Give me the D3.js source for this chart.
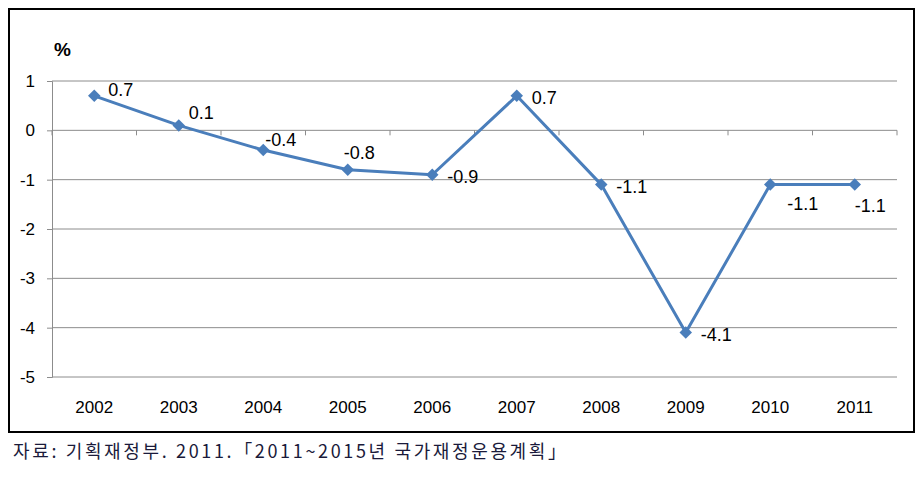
<!DOCTYPE html>
<html>
<head>
<meta charset="utf-8">
<script src="https://cdn.jsdelivr.net/npm/d3@7"></script>
<style>
	body { margin: 0; background: #fff; }
	svg text { font-family: "Liberation Sans", Arial, sans-serif; }
</style>
</head>
<body>
<div id="chart"></div>
<script>
var years = ['2002','2003','2004','2005','2006','2007','2008','2009','2010','2011'];
var values = [0.7, 0.1, -0.4, -0.8, -0.9, 0.7, -1.1, -4.1, -1.1, -1.1];
var yTicks = [1, 0, -1, -2, -3, -4, -5];
// where each value label sits relative to its point
var labelPlace = ['upRight','above','aboveNear','aboveLeft','right','right','right','right','belowRight','below'];
var unitLabel = '%';
var source = '자료: 기획재정부. 2011.「2011~2015년 국가재정운용계획」';

var width = 922, height = 479;
var plotLeft = 52, plotRight = 897, plotTop = 81, plotBottom = 377;

var svg = d3.select('#chart').append('svg')
	.attr('width', width).attr('height', height);

// outer frame
svg.append('rect')
	.attr('x', 9).attr('y', 9).attr('width', 905).attr('height', 423)
	.attr('fill', 'none').attr('stroke', '#000').attr('stroke-width', 2);

var x = d3.scaleBand().domain(years).range([plotLeft, plotRight]);
var y = d3.scaleLinear().domain([-5, 1]).range([plotBottom, plotTop]);

// gridlines
svg.append('g').selectAll('line').data(yTicks).enter().append('line')
	.attr('x1', plotLeft).attr('x2', plotRight)
	.attr('y1', function(d) { return y(d); })
	.attr('y2', function(d) { return y(d); })
	.attr('stroke', '#8c8c8c').attr('stroke-width', 1);

// y axis
var yAxis = svg.append('g')
	.attr('transform', 'translate(' + plotLeft + ',0)')
	.call(d3.axisLeft(y).tickValues(yTicks).tickSize(5).tickPadding(12).tickFormat(String));
yAxis.select('.domain').attr('stroke', '#8c8c8c');
yAxis.selectAll('.tick line').attr('stroke', '#8c8c8c');
yAxis.selectAll('text').attr('font-size', 17).attr('fill', '#000')
	.style('font-family', '"Liberation Sans", Arial, sans-serif');

// category boundary ticks along the zero line
var bounds = d3.range(years.length + 1);
svg.append('g').selectAll('line').data(bounds).enter().append('line')
	.attr('x1', function(i) { return plotLeft + i * x.step(); })
	.attr('x2', function(i) { return plotLeft + i * x.step(); })
	.attr('y1', y(0)).attr('y2', y(0) + 5)
	.attr('stroke', '#8c8c8c');

// category labels under plot
svg.append('g').selectAll('text').data(years).enter().append('text')
	.attr('x', function(d) { return x(d) + x.bandwidth() / 2; })
	.attr('y', 413)
	.attr('text-anchor', 'middle')
	.attr('font-size', 17)
	.text(function(d) { return d; });

// unit label
svg.append('text')
	.attr('x', 54).attr('y', 56)
	.attr('font-size', 19).attr('font-weight', 'bold')
	.text(unitLabel);

var pts = years.map(function(d, i) { return { year: d, value: values[i], place: labelPlace[i] }; });

var line = d3.line()
	.x(function(d) { return x(d.year) + x.bandwidth() / 2; })
	.y(function(d) { return y(d.value); });

svg.append('path').datum(pts)
	.attr('d', line)
	.attr('fill', 'none')
	.attr('stroke', '#4a7ebb')
	.attr('stroke-width', 3)
	.attr('stroke-linejoin', 'round');

svg.append('g').selectAll('path').data(pts).enter().append('path')
	.attr('d', d3.symbol().type(d3.symbolDiamond2).size(100))
	.attr('transform', function(d) { return 'translate(' + (x(d.year) + x.bandwidth() / 2) + ',' + y(d.value) + ')'; })
	.attr('fill', '#4a7ebb');

var offsets = {
	upRight: [14, -6],
	above: [10, -13],
	aboveNear: [2, -10],
	aboveLeft: [-4, -17],
	right: [15, 2],
	belowRight: [17, 19],
	below: [0, 21]
};

svg.append('g').selectAll('text').data(pts).enter().append('text')
	.attr('x', function(d) { return x(d.year) + x.bandwidth() / 2 + offsets[d.place][0]; })
	.attr('y', function(d) { return y(d.value) + offsets[d.place][1]; })
	.attr('dy', '0.35em')
	.attr('font-size', 18)
	.text(function(d) { return d.value; });

// source note
svg.append('text')
	.attr('x', 13).attr('y', 458)
	.attr('font-size', 18)
	.attr('fill', '#1a1a3a')
	.attr('textLength', 553)
	.style('font-family', '"Noto Sans CJK KR", sans-serif')
	.text(source);
</script>
</body>
</html>
